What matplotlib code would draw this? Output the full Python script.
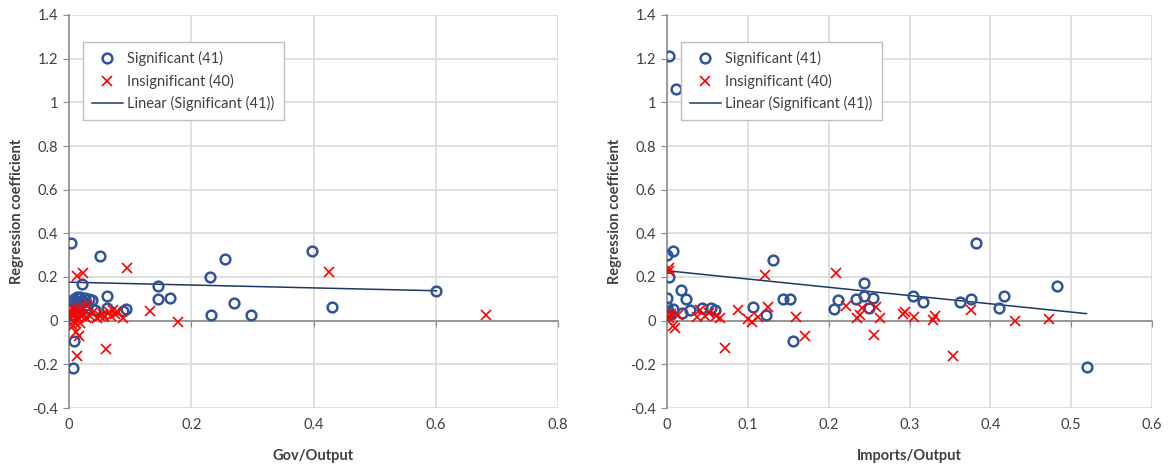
import numpy as np
import matplotlib
matplotlib.use("Agg")
import matplotlib.pyplot as plt
import matplotlib.transforms as mtransforms

plt.rcParams['font.family'] = ['Lato', 'DejaVu Sans']

# ---------------- data ----------------
# (some significant points sit behind the opaque legend, as in the reference)
gov_sig_x = [0.004, 0.051, 0.022, 0.013, 0.018, 0.026, 0.032, 0.037, 0.062, 0.043,
             0.062, 0.089, 0.093, 0.146, 0.145, 0.166, 0.004, 0.008, 0.007, 0.230,
             0.256, 0.270, 0.233, 0.298, 0.397, 0.430, 0.601, 0.002, 0.005, 0.010,
             0.015, 0.020, 0.025, 0.028, 0.030, 0.012, 0.008, 0.016, 0.032, 0.040, 0.042]
gov_sig_y = [0.355, 0.298, 0.167, 0.110, 0.108, 0.104, 0.100, 0.096, 0.113, 0.050,
             0.058, 0.046, 0.055, 0.157, 0.100, 0.104, 0.027, -0.095, -0.215, 0.199,
             0.283, 0.081, 0.028, 0.028, 0.318, 0.063, 0.138, 0.050, 0.060, 0.040,
             0.070, 0.090, 0.085, 0.070, 0.060, 0.090, 0.100, 0.105, 1.210, 1.060, 1.000]
gov_ins_x = [0.013, 0.023, 0.095, 0.132, 0.178, 0.060, 0.013, 0.016, 0.012, 0.007,
             0.089, 0.425, 0.683, 0.002, 0.003, 0.005, 0.006, 0.008, 0.010, 0.012,
             0.014, 0.016, 0.018, 0.020, 0.022, 0.025, 0.028, 0.030, 0.035, 0.040,
             0.045, 0.050, 0.055, 0.058, 0.065, 0.068, 0.072, 0.075, 0.080, 0.010]
gov_ins_y = [0.206, 0.218, 0.242, 0.045, -0.008, -0.128, -0.162, -0.070, -0.050, -0.025,
             0.013, 0.222, 0.024, 0.010, 0.040, 0.060, 0.020, 0.000, 0.030, 0.050,
             0.010, 0.040, -0.010, 0.020, 0.060, 0.030, 0.010, 0.070, 0.020, 0.040,
             0.010, 0.020, 0.030, 0.015, 0.040, 0.020, 0.050, 0.030, 0.040, -0.010]

imp_sig_x = [0.003, 0.011, 0.000, 0.007, 0.002, 0.017, 0.023, 0.000, 0.000, 0.008,
             0.018, 0.028, 0.043, 0.055, 0.059, 0.000, 0.106, 0.122, 0.131, 0.143,
             0.152, 0.156, 0.206, 0.212, 0.234, 0.244, 0.244, 0.255, 0.250, 0.304,
             0.317, 0.363, 0.376, 0.382, 0.411, 0.417, 0.482, 0.519, 0.004, 0.001, 0.160]
imp_sig_y = [1.210, 1.060, 0.300, 0.318, 0.199, 0.139, 0.100, 0.104, 0.063, 0.054,
             0.035, 0.050, 0.058, 0.058, 0.047, 0.028, 0.063, 0.024, 0.280, 0.100,
             0.100, -0.095, 0.055, 0.096, 0.100, 0.173, 0.115, 0.104, 0.058, 0.112,
             0.087, 0.084, 0.100, 0.356, 0.058, 0.112, 0.157, -0.210, 0.030, 0.045, 1.000]
imp_ins_x = [0.002, 0.003, 0.000, 0.008, 0.010, 0.014, 0.037, 0.041, 0.047, 0.061,
             0.066, 0.072, 0.088, 0.100, 0.105, 0.112, 0.121, 0.125, 0.160, 0.171,
             0.209, 0.221, 0.235, 0.239, 0.241, 0.259, 0.263, 0.256, 0.292, 0.295,
             0.305, 0.329, 0.331, 0.354, 0.376, 0.430, 0.472, 0.005, 0.052, 0.003]
imp_ins_y = [0.242, 0.228, 0.025, -0.026, -0.034, 0.024, 0.017, 0.050, 0.020, 0.020,
             0.012, -0.125, 0.047, 0.009, -0.006, 0.017, 0.210, 0.063, 0.017, -0.072,
             0.219, 0.069, 0.012, 0.028, 0.058, 0.063, 0.012, -0.064, 0.032, 0.040,
             0.015, 0.005, 0.023, -0.160, 0.047, -0.003, 0.009, 0.030, 0.035, 0.010]

y_ticks = [-0.4, -0.2, 0, 0.2, 0.4, 0.6, 0.8, 1, 1.2, 1.4]
gov_x_ticks = [0, 0.2, 0.4, 0.6, 0.8]
imp_x_ticks = [0, 0.1, 0.2, 0.3, 0.4, 0.5, 0.6]

sig_label = "Significant (41)"
ins_label = "Insignificant (40)"
lin_label = "Linear (Significant (41))"

# ---------------- style ----------------
BLUE = '#2F5597'
RED = '#FF0000'
LINE = '#203864'
GRID = '#D9D9D9'
AXIS = '#8C8C8C'
TXT = '#404040'
FS = 10.5

fig = plt.figure(figsize=(11.69, 4.68), dpi=100)
W, H = 1169, 468


def fmt(v):
    return '%g' % v


def panel(rect, sx, sy, ix, iy, xticks, xlabel):
    ax = fig.add_axes(rect)
    ax.set_xlim(xticks[0], xticks[-1])
    ax.set_ylim(y_ticks[0], y_ticks[-1])
    ax.set_yticks(y_ticks)
    ax.set_xticks(xticks)
    ax.grid(True, color=GRID, linewidth=1.2, zorder=0)
    ax.set_axisbelow(True)
    for s in ['top', 'right']:
        ax.spines[s].set_visible(False)
    ax.spines['bottom'].set_position(('data', 0))
    for s in ['bottom', 'left']:
        ax.spines[s].set_color(AXIS)
        ax.spines[s].set_linewidth(1.2)
        ax.spines[s].set_zorder(1)
    ax.tick_params(axis='x', direction='out', length=4, color=AXIS, labelbottom=False)
    ax.tick_params(axis='y', direction='out', length=4, color=AXIS,
                   labelsize=FS, labelcolor=TXT, pad=4)
    ax.set_yticklabels([fmt(v) for v in y_ticks])
    trans = mtransforms.blended_transform_factory(ax.transData, ax.transAxes)
    for v in xticks:
        ax.text(v, -0.025, fmt(v), transform=trans, ha='center', va='top',
                fontsize=FS, color=TXT)
    ax.set_xlabel(xlabel, fontsize=FS, fontweight='bold', color=TXT)
    ax.xaxis.set_label_coords(0.5, -0.105)
    ax.set_ylabel("Regression coefficient", fontsize=FS, fontweight='bold', color=TXT)
    ax.yaxis.set_label_coords(-0.093, 0.5)

    ax.plot(sx, sy, linestyle='none', marker='o', markersize=7, markerfacecolor='none',
            markeredgecolor=BLUE, markeredgewidth=1.8, label=sig_label, zorder=3)
    ax.plot(ix, iy, linestyle='none', marker='x', markersize=6.5, color=RED,
            markeredgewidth=1.2, label=ins_label, zorder=3)
    k, b = np.polyfit(sx, sy, 1)
    xs = np.array([min(sx), max(sx)])
    ax.plot(xs, k * xs + b, color=LINE, linewidth=1.1, label=lin_label, zorder=2)

    leg = ax.legend(loc='upper left', bbox_to_anchor=(0.028, 0.932), borderaxespad=0,
                    fontsize=FS, frameon=True, fancybox=False, edgecolor='#BFBFBF',
                    framealpha=1, handlelength=2.1, handletextpad=0.3,
                    borderpad=0.65, labelspacing=0.5)
    leg.get_frame().set_linewidth(1.0)
    leg.set_zorder(5)
    for t in leg.get_texts():
        t.set_color(TXT)
    return ax


ax1 = panel([69 / W, 1 - 408 / H, (558 - 69) / W, (408 - 15) / H],
            gov_sig_x, gov_sig_y, gov_ins_x, gov_ins_y, gov_x_ticks, "Gov/Output")
ax2 = panel([667 / W, 1 - 408 / H, (1152 - 667) / W, (408 - 15) / H],
            imp_sig_x, imp_sig_y, imp_ins_x, imp_ins_y, imp_x_ticks, "Imports/Output")

fig.savefig("out.png", dpi=100)
